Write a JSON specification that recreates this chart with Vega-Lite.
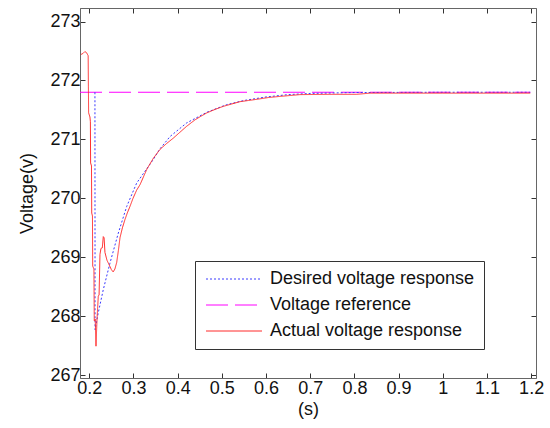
{
  "$schema": "https://vega.github.io/schema/vega-lite/v6.json",
  "width": 456,
  "height": 370,
  "autosize": {"type": "none"},
  "padding": {"left": 80, "top": 8, "right": 14, "bottom": 50},
  "background": "white",
  "config": {
    "font": "Liberation Sans",
    "view": {"stroke": "#999", "strokeWidth": 1},
    "axis": {
      "grid": false,
      "labelFontSize": 18,
      "labelColor": "#111",
      "titleFontSize": 18,
      "titleFontWeight": "normal",
      "titleColor": "#111",
      "tickSize": -5,
      "tickColor": "#333",
      "domainColor": "#666",
      "labelFont": "Liberation Sans",
      "titleFont": "Liberation Sans"
    },
    "legend": {
      "labelFont": "Liberation Sans",
      "labelFontSize": 18,
      "labelColor": "#111",
      "labelLimit": 0
    }
  },
  "data": {
    "values": [
      {"series": "Voltage reference", "t": 0.179, "v": 271.8},
      {"series": "Voltage reference", "t": 1.198, "v": 271.8},

      {"series": "Desired voltage response", "t": 0.2128, "v": 271.8},
      {"series": "Desired voltage response", "t": 0.2131, "v": 267.77},
      {"series": "Desired voltage response", "t": 0.2204, "v": 268.06},
      {"series": "Desired voltage response", "t": 0.2317, "v": 268.45},
      {"series": "Desired voltage response", "t": 0.2468, "v": 268.9},
      {"series": "Desired voltage response", "t": 0.2657, "v": 269.41},
      {"series": "Desired voltage response", "t": 0.2846, "v": 269.86},
      {"series": "Desired voltage response", "t": 0.3073, "v": 270.26},
      {"series": "Desired voltage response", "t": 0.33, "v": 270.5},
      {"series": "Desired voltage response", "t": 0.345, "v": 270.66},
      {"series": "Desired voltage response", "t": 0.36, "v": 270.84},
      {"series": "Desired voltage response", "t": 0.383, "v": 271.05},
      {"series": "Desired voltage response", "t": 0.4205, "v": 271.28},
      {"series": "Desired voltage response", "t": 0.466, "v": 271.46},
      {"series": "Desired voltage response", "t": 0.511, "v": 271.59},
      {"series": "Desired voltage response", "t": 0.55, "v": 271.66},
      {"series": "Desired voltage response", "t": 0.6, "v": 271.72},
      {"series": "Desired voltage response", "t": 0.65, "v": 271.76},
      {"series": "Desired voltage response", "t": 0.7, "v": 271.78},
      {"series": "Desired voltage response", "t": 0.8, "v": 271.795},
      {"series": "Desired voltage response", "t": 1.0, "v": 271.8},
      {"series": "Desired voltage response", "t": 1.198, "v": 271.8},

      {"series": "Actual voltage response", "t": 0.181, "v": 272.44},
      {"series": "Actual voltage response", "t": 0.186, "v": 272.46},
      {"series": "Actual voltage response", "t": 0.19, "v": 272.49},
      {"series": "Actual voltage response", "t": 0.194, "v": 272.47},
      {"series": "Actual voltage response", "t": 0.1975, "v": 272.42},
      {"series": "Actual voltage response", "t": 0.198, "v": 271.9},
      {"series": "Actual voltage response", "t": 0.1985, "v": 271.45},
      {"series": "Actual voltage response", "t": 0.2015, "v": 271.38},
      {"series": "Actual voltage response", "t": 0.2025, "v": 271.3},
      {"series": "Actual voltage response", "t": 0.203, "v": 270.6},
      {"series": "Actual voltage response", "t": 0.205, "v": 270.55},
      {"series": "Actual voltage response", "t": 0.2055, "v": 269.75},
      {"series": "Actual voltage response", "t": 0.2072, "v": 269.7},
      {"series": "Actual voltage response", "t": 0.2077, "v": 268.85},
      {"series": "Actual voltage response", "t": 0.2105, "v": 268.8},
      {"series": "Actual voltage response", "t": 0.2113, "v": 267.92},
      {"series": "Actual voltage response", "t": 0.2135, "v": 267.95},
      {"series": "Actual voltage response", "t": 0.2152, "v": 267.49},
      {"series": "Actual voltage response", "t": 0.2175, "v": 267.95},
      {"series": "Actual voltage response", "t": 0.2204, "v": 268.34},
      {"series": "Actual voltage response", "t": 0.2222, "v": 268.36},
      {"series": "Actual voltage response", "t": 0.2242, "v": 269.05},
      {"series": "Actual voltage response", "t": 0.2265, "v": 269.15},
      {"series": "Actual voltage response", "t": 0.2295, "v": 269.16},
      {"series": "Actual voltage response", "t": 0.2317, "v": 269.35},
      {"series": "Actual voltage response", "t": 0.2335, "v": 269.33},
      {"series": "Actual voltage response", "t": 0.2355, "v": 269.08},
      {"series": "Actual voltage response", "t": 0.24, "v": 268.95},
      {"series": "Actual voltage response", "t": 0.245, "v": 268.87},
      {"series": "Actual voltage response", "t": 0.25, "v": 268.79},
      {"series": "Actual voltage response", "t": 0.254, "v": 268.75},
      {"series": "Actual voltage response", "t": 0.258, "v": 268.8},
      {"series": "Actual voltage response", "t": 0.262, "v": 268.91},
      {"series": "Actual voltage response", "t": 0.266, "v": 269.12},
      {"series": "Actual voltage response", "t": 0.2695, "v": 269.33},
      {"series": "Actual voltage response", "t": 0.275, "v": 269.5},
      {"series": "Actual voltage response", "t": 0.2808, "v": 269.64},
      {"series": "Actual voltage response", "t": 0.286, "v": 269.75},
      {"series": "Actual voltage response", "t": 0.292, "v": 269.86},
      {"series": "Actual voltage response", "t": 0.299, "v": 270.0},
      {"series": "Actual voltage response", "t": 0.3073, "v": 270.14},
      {"series": "Actual voltage response", "t": 0.3148, "v": 270.23},
      {"series": "Actual voltage response", "t": 0.33, "v": 270.49},
      {"series": "Actual voltage response", "t": 0.345, "v": 270.68},
      {"series": "Actual voltage response", "t": 0.36, "v": 270.83},
      {"series": "Actual voltage response", "t": 0.375, "v": 270.93},
      {"series": "Actual voltage response", "t": 0.39, "v": 271.02},
      {"series": "Actual voltage response", "t": 0.405, "v": 271.12},
      {"series": "Actual voltage response", "t": 0.42, "v": 271.22},
      {"series": "Actual voltage response", "t": 0.439, "v": 271.33},
      {"series": "Actual voltage response", "t": 0.452, "v": 271.39},
      {"series": "Actual voltage response", "t": 0.466, "v": 271.45},
      {"series": "Actual voltage response", "t": 0.485, "v": 271.51},
      {"series": "Actual voltage response", "t": 0.503, "v": 271.56},
      {"series": "Actual voltage response", "t": 0.522, "v": 271.6},
      {"series": "Actual voltage response", "t": 0.541, "v": 271.64},
      {"series": "Actual voltage response", "t": 0.56, "v": 271.66},
      {"series": "Actual voltage response", "t": 0.579, "v": 271.68},
      {"series": "Actual voltage response", "t": 0.605, "v": 271.71},
      {"series": "Actual voltage response", "t": 0.632, "v": 271.73},
      {"series": "Actual voltage response", "t": 0.655, "v": 271.745},
      {"series": "Actual voltage response", "t": 0.677, "v": 271.76},
      {"series": "Actual voltage response", "t": 0.75, "v": 271.765},
      {"series": "Actual voltage response", "t": 0.8053, "v": 271.765},
      {"series": "Actual voltage response", "t": 0.8355, "v": 271.785},
      {"series": "Actual voltage response", "t": 0.9, "v": 271.785},
      {"series": "Actual voltage response", "t": 1.0, "v": 271.785},
      {"series": "Actual voltage response", "t": 1.1, "v": 271.785},
      {"series": "Actual voltage response", "t": 1.198, "v": 271.785}
    ]
  },
  "layer": [
    {
      "mark": {"type": "line", "strokeWidth": 1, "interpolate": "linear"},
      "encoding": {
        "x": {
          "field": "t", "type": "quantitative",
          "scale": {"domain": [0.179, 1.211], "nice": false, "zero": false},
          "axis": {
            "orient": "bottom",
            "values": [0.2, 0.3, 0.4, 0.5, 0.6, 0.7, 0.8, 0.9, 1, 1.1, 1.2],
            "format": "~g",
            "title": "(s)",
            "labelPadding": 6,
            "titlePadding": 3
          }
        },
        "y": {
          "field": "v", "type": "quantitative",
          "scale": {"domain": [266.95, 273.23], "nice": false, "zero": false},
          "axis": {
            "orient": "left",
            "values": [267, 268, 269, 270, 271, 272, 273],
            "format": "d",
            "title": "Voltage(v)",
            "labelPadding": 5,
            "titlePadding": 13
          }
        },
        "color": {
          "field": "series", "type": "nominal",
          "scale": {
            "domain": ["Desired voltage response", "Voltage reference", "Actual voltage response"],
            "range": ["#3a3aff", "#ff00ff", "#ff2a2a"]
          },
          "legend": {
            "title": null,
            "orient": "none",
            "legendX": 115,
            "legendY": 253,
            "strokeColor": "#333",
            "fillColor": "white",
            "padding": 9,
            "rowPadding": 8,
            "symbolType": "M-1,0H7",
            "symbolSize": 196,
            "symbolStrokeWidth": 1,
            "labelOffset": 48,
            "labelLimit": 0
          }
        },
        "strokeDash": {
          "field": "series", "type": "nominal",
          "scale": {
            "domain": ["Desired voltage response", "Voltage reference", "Actual voltage response"],
            "range": [[2, 2], [22, 7], [1, 0]]
          },
          "legend": {
            "title": null,
            "orient": "none",
            "legendX": 115,
            "legendY": 253,
            "strokeColor": "#333",
            "fillColor": "white",
            "padding": 9,
            "rowPadding": 8,
            "symbolType": "M-1,0H7",
            "symbolSize": 196,
            "symbolStrokeWidth": 1,
            "labelOffset": 48,
            "labelLimit": 0
          }
        }
      }
    },
    {
      "mark": {"type": "line", "opacity": 0},
      "encoding": {
        "x": {
          "field": "t", "type": "quantitative",
          "axis": {
            "orient": "top",
            "values": [0.2, 0.3, 0.4, 0.5, 0.6, 0.7, 0.8, 0.9, 1, 1.1, 1.2],
            "labels": false,
            "title": null
          }
        },
        "y": {
          "field": "v", "type": "quantitative",
          "axis": {
            "orient": "right",
            "values": [267, 268, 269, 270, 271, 272, 273],
            "labels": false,
            "title": null
          }
        },
        "detail": {"field": "series"}
      }
    }
  ],
  "resolve": {"axis": {"x": "independent", "y": "independent"}}
}
